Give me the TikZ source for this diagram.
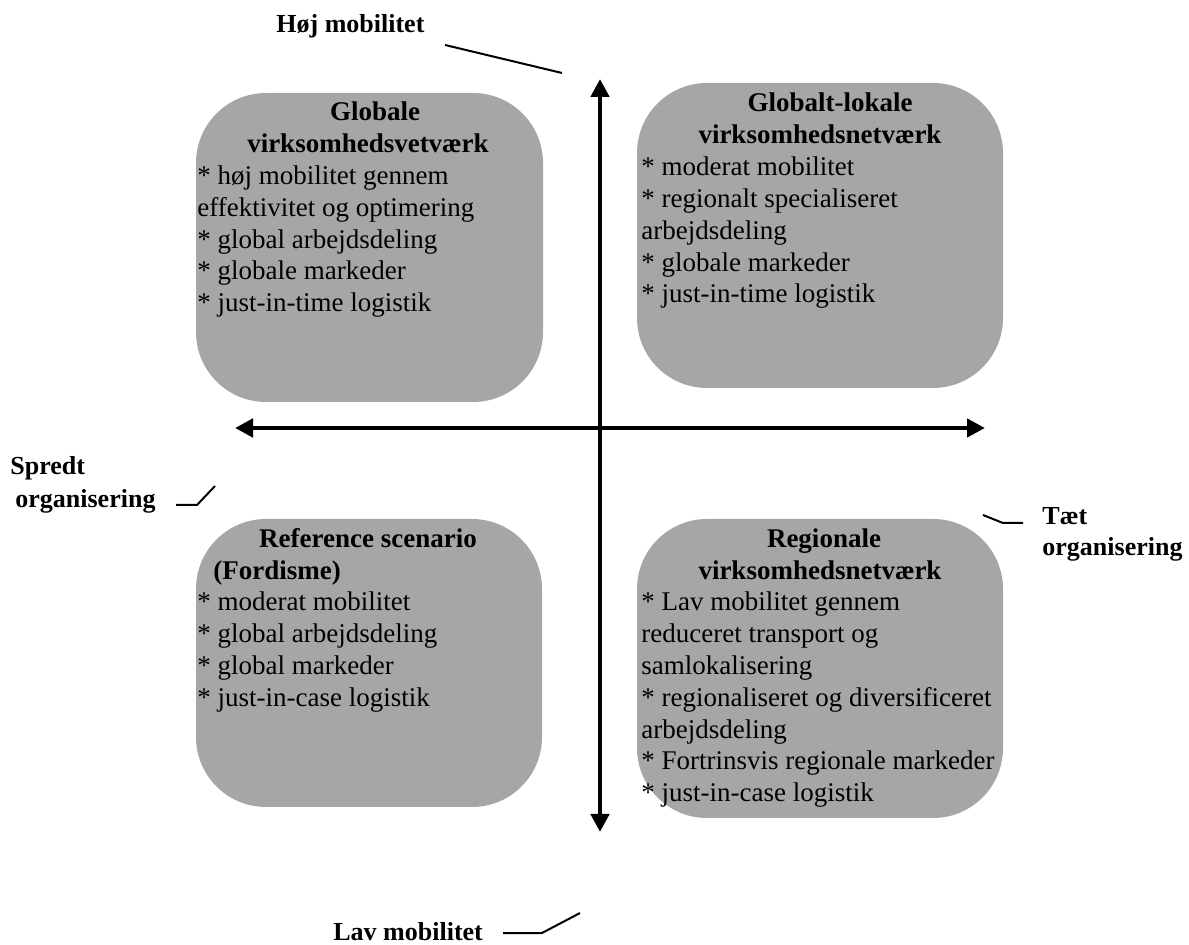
\documentclass[tikz,border=0pt]{standalone}
\usepackage{fontspec}
\setmainfont{Liberation Serif}
\usetikzlibrary{arrows.meta}
\definecolor{boxgray}{RGB}{166,166,166}
\tikzset{
  quadbox/.style={draw=none, fill=boxgray, rounded corners=35pt, inner sep=0pt},
  boxbody/.style={anchor=base west, inner sep=0pt, font=\fontsize{13.5pt}{15.8pt}\selectfont},
  boxtitle/.style={anchor=base, inner sep=0pt, font=\bfseries\fontsize{13.5pt}{15.8pt}\selectfont},
  axislabel/.style={anchor=base west, inner sep=0pt, font=\bfseries\fontsize{13pt}{16pt}\selectfont},
  axisarrow/.style={line width=2.25pt, {Triangle[length=9pt,width=9pt]}-{Triangle[length=9pt,width=9pt]}},
  pointer/.style={line width=1pt}
}
\begin{document}
\begin{tikzpicture}[x=0.5pt,y=-0.5pt]
\useasboundingbox (0,0) rectangle (1189,945);
% boxes
\node[quadbox, minimum width=173.5pt, minimum height=154.5pt] (tl) at (369.5,247.5) {};
\node[quadbox, minimum width=183pt, minimum height=152.5pt] (tr) at (820,235.5) {};
\node[quadbox, minimum width=173pt, minimum height=144pt] (bl) at (369,663) {};
\node[quadbox, minimum width=183pt, minimum height=149.5pt] (br) at (820,668.5) {};
% axes
\coordinate (vtop) at (600,79);
\coordinate (vbot) at (600,832);
\coordinate (hleft) at (235,428);
\coordinate (hright) at (985,428);
\draw[axisarrow] (vbot) -- (vtop);
\draw[axisarrow] (hleft) -- (hright);
% titles
\node[boxtitle] (tlt1) at (375,121) {Globale};
\node[boxtitle] (tlt2) at (368,153) {virksomhedsvetværk};
\node[boxtitle] (trt1) at (830,112) {Globalt-lokale};
\node[boxtitle] (trt2) at (820,144) {virksomhedsnetværk};
\node[boxtitle] (blt1) at (368,548) {Reference scenario};
\node[boxtitle, anchor=base west] (blt2) at (213,580) {(Fordisme)};
\node[boxtitle] (brt1) at (824,548) {Regionale};
\node[boxtitle] (brt2) at (820,580) {virksomhedsnetværk};
% bodies
\foreach \t [count=\i from 0] in {* høj mobilitet gennem, effektivitet og optimering, * global arbejdsdeling, * globale markeder, * just-in-time logistik}
  \node[boxbody] (tlb\i) at (197,185+\i*31.6) {\t};
\foreach \t [count=\i from 0] in {* moderat mobilitet, * regionalt specialiseret, arbejdsdeling, * globale markeder, * just-in-time logistik}
  \node[boxbody] (trb\i) at (641,176+\i*31.75) {\t};
\foreach \t [count=\i from 0] in {* moderat mobilitet, * global arbejdsdeling, * global markeder, * just-in-case logistik}
  \node[boxbody] (blb\i) at (197,611+\i*31.7) {\t};
\foreach \t [count=\i from 0] in {* Lav mobilitet gennem, reduceret transport og, samlokalisering, * regionaliseret og diversificeret, arbejdsdeling, * Fortrinsvis regionale markeder, * just-in-case logistik}
  \node[boxbody] (brb\i) at (641,611+\i*31.8) {\t};
% axis labels
\node[axislabel] (hoj) at (276,33) {Høj mobilitet};
\node[axislabel] (spr1) at (10,475) {Spredt};
\node[axislabel] (spr2) at (15,508) {organisering};
\node[axislabel] (taet1) at (1042,525) {Tæt};
\node[axislabel] (taet2) at (1042,556) {organisering};
\node[axislabel] (lav) at (333,940) {Lav mobilitet};
% pointer lines
\coordinate (h1) at (445,45); \coordinate (h2) at (562,73);
\draw[pointer] (h1) -- (h2);
\coordinate (s1) at (176,505); \coordinate (s2) at (197,505); \coordinate (s3) at (215,486);
\draw[pointer] (s1) -- (s2) -- (s3);
\coordinate (t1) at (983,515); \coordinate (t2) at (1003,523); \coordinate (t3) at (1023,523);
\draw[pointer] (t1) -- (t2) -- (t3);
\coordinate (l1) at (503,933); \coordinate (l2) at (542,933); \coordinate (l3) at (580,913);
\draw[pointer] (l1) -- (l2) -- (l3);
\end{tikzpicture}
\end{document}
